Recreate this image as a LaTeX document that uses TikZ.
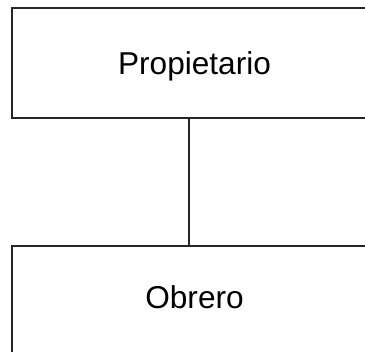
\documentclass[tikz,border=0pt]{standalone}
\usepackage{fontspec}
\setmainfont{Liberation Sans}
\usepackage{tikz}

\begin{document}
\begin{tikzpicture}[x=1pt, y=-1pt,
    entidad/.style={draw=black!85, line width=1.3pt, rectangle,
      minimum width=365pt, minimum height=110pt, inner sep=0pt,
      font=\fontsize{31.6}{38}\selectfont, text height=23pt}]
  % Marco
  \useasboundingbox (0,0) rectangle (365,352);
  % Cajas
  \node[entidad, text depth=0pt] (propietario) at (194.5,63) {Propietario};
  \node[entidad, text depth=7pt] (obrero) at (194.5,301) {Obrero};
  % Relacion
  \draw[black!85, line width=1.3pt] (propietario.south -| 189,0) -- (obrero.north -| 189,0);
\end{tikzpicture}
\end{document}
